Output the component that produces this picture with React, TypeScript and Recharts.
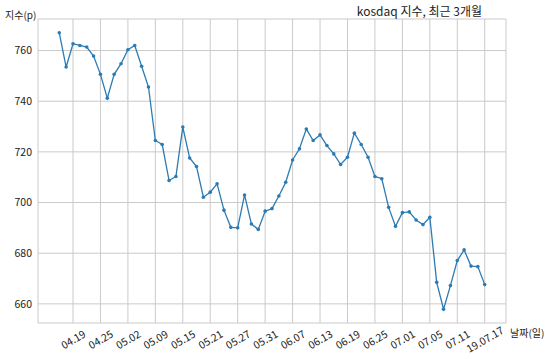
import * as React from 'react';
import { LineChart, Line, XAxis, YAxis, CartesianGrid } from 'recharts';

// trading days, 2019-04-17 .. 2019-07-17
const dates = [
  '04.17', '04.18', '04.19', '04.22', '04.23', '04.24', '04.25', '04.26', '04.29', '04.30',
  '05.02', '05.03', '05.07', '05.08', '05.09', '05.10', '05.13', '05.14', '05.15', '05.16',
  '05.17', '05.20', '05.21', '05.22', '05.23', '05.24', '05.27', '05.28', '05.29', '05.30',
  '05.31', '06.03', '06.04', '06.05', '06.07', '06.10', '06.11', '06.12', '06.13', '06.14',
  '06.17', '06.18', '06.19', '06.20', '06.21', '06.24', '06.25', '06.26', '06.27', '06.28',
  '07.01', '07.02', '07.03', '07.04', '07.05', '07.08', '07.09', '07.10', '07.11', '07.12',
  '07.15', '07.16', '07.17',
];

const kosdaq = [
  767.0, 753.5, 762.7, 762.0, 761.4, 757.8, 750.6, 741.2, 750.6, 754.8,
  760.3, 762.0, 753.8, 745.6, 724.5, 722.9, 708.7, 710.3, 729.8, 717.6,
  714.2, 702.1, 704.1, 707.4, 697.0, 690.2, 690.0, 703.0, 691.5, 689.4,
  696.6, 697.6, 702.6, 708.0, 716.8, 721.2, 729.0, 724.5, 726.7, 722.5,
  719.2, 715.0, 717.9, 727.4, 722.9, 717.9, 710.3, 709.4, 698.1, 690.6,
  696.0, 696.3, 693.1, 691.3, 694.2, 668.5, 657.9, 667.2, 677.1, 681.3,
  674.9, 674.7, 667.6,
];

const tickDates = [
  '04.19', '04.25', '05.02', '05.09', '05.15', '05.21', '05.27', '05.31',
  '06.07', '06.13', '06.19', '06.25', '07.01', '07.05', '07.11', '07.17',
];
const tickLabels = [
  '04.19', '04.25', '05.02', '05.09', '05.15', '05.21', '05.27', '05.31',
  '06.07', '06.13', '06.19', '06.25', '07.01', '07.05', '07.11', '19.07.17',
];
const yTicks = [660, 680, 700, 720, 740, 760];

const FONT = '"Noto Sans CJK KR", "Noto Sans", sans-serif';
const LINE = '#2c7bb3';

const data = dates.map((d, i) => ({ i, d, v: kosdaq[i] }));
const xTicks = tickDates.map((d) => dates.indexOf(d));

// matplotlib-style 5% autoscale padding
const n = dates.length - 1;
const xPad = n * 0.05;
const yLo = Math.min(...kosdaq);
const yHi = Math.max(...kosdaq);
const yPad = (yHi - yLo) * 0.05;

function DateTick(props: any) {
  const { x, y, payload } = props;
  const k = xTicks.indexOf(payload.value);
  const label = k >= 0 ? tickLabels[k] : '';
  return (
    <g transform={`translate(${x},${y + 8})`}>
      <text
        x={0}
        y={0}
        transform="rotate(-30)"
        textAnchor="middle"
        dominantBaseline="central"
        fontSize={10.5}
        fontFamily={FONT}
        fill="#222"
      >
        {label}
      </text>
    </g>
  );
}

export default function App() {
  return (
    <div style={{ position: 'absolute', left: 0, top: 0, width: 550, height: 359, background: '#fff' }}>
      <LineChart
        width={550}
        height={359}
        data={data}
        margin={{ top: 19, right: 44, bottom: 0, left: 8 }}
      >
        <CartesianGrid stroke="#cacaca" strokeWidth={1} />
        <XAxis
          dataKey="i"
          type="number"
          domain={[-xPad, n + xPad]}
          ticks={xTicks}
          interval={0}
          tick={<DateTick />}
          tickLine={false}
          axisLine={false}
          height={36}
        />
        <YAxis
          type="number"
          domain={[yLo - yPad, yHi + yPad]}
          ticks={yTicks}
          allowDataOverflow
          tickLine={false}
          axisLine={false}
          tickSize={4}
          width={30}
          tick={{ fontSize: 10.5, fill: '#222', fontFamily: FONT }}
        />
        <Line
          type="linear"
          dataKey="v"
          stroke={LINE}
          strokeWidth={1.3}
          dot={{ r: 1.8, fill: LINE, stroke: LINE, strokeWidth: 0 }}
          isAnimationActive={false}
        />
      </LineChart>
      <div style={{ position: 'absolute', left: 5, top: 7, fontSize: 10, fontFamily: FONT, color: '#222' }}>
        지수(p)
      </div>
      <div style={{ position: 'absolute', right: 68, top: 2, fontSize: 12, fontFamily: FONT, color: '#222', whiteSpace: 'nowrap' }}>
        kosdaq 지수, 최근 3개월
      </div>
      <div style={{ position: 'absolute', left: 510, top: 325, fontSize: 10, fontFamily: FONT, color: '#222', whiteSpace: 'nowrap' }}>
        날짜(일)
      </div>
    </div>
  );
}
